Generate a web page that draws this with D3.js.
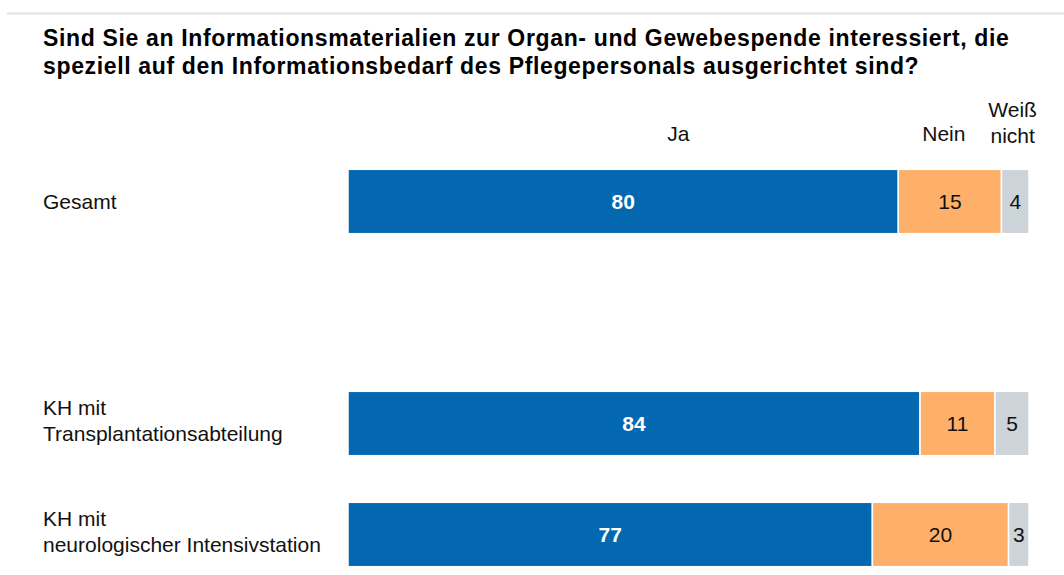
<!DOCTYPE html>
<head>
    <meta charset="utf-8">
    <script src="https://d3js.org/d3.v7.min.js"></script>
    <style>
        body { margin: 0; background: #fff; }
        text { font-family: "Liberation Sans", Arial, sans-serif; }
    </style>
</head>
<body>
<svg width="1064" height="575"></svg>

<script>

    // data
    var titleLines = ["Sind Sie an Informationsmaterialien zur Organ- und Gewebespende interessiert, die",
                      "speziell auf den Informationsbedarf des Pflegepersonals ausgerichtet sind?"];
    var groups = ["Gesamt", "_gap", "KH mit Transplantationsabteilung", "KH mit neurologischer Intensivstation"];
    var groupLabels = [["Gesamt"], [], ["KH mit", "Transplantationsabteilung"], ["KH mit", "neurologischer Intensivstation"]];
    var keys = ["Ja", "Nein", "Weiß nicht"];
    var jaValues = [80, null, 84, 77];
    var neinValues = [15, null, 11, 20];
    var wnValues = [4, null, 5, 3];
    // header lines and their position on the percent scale
    var headerLines = [["Ja"], ["Nein"], ["Weiß", "nicht"]];
    var headerPos = [48.5, 87.5, 97.6];

    var colors = ["#0468b1", "#feb06a", "#ccd3d9"];

    var svg = d3.select("svg"),
        margin = {top: 146, left: 348, right: 35},
        width = +svg.attr("width") - margin.left - margin.right;

    // top rule
    svg.append("line")
        .attr("x1", 7).attr("x2", 1064)
        .attr("y1", 13.5).attr("y2", 13.5)
        .attr("stroke", "#dde2e3")
        .attr("stroke-width", 2);

    // title
    svg.selectAll(".title")
        .data(titleLines)
        .enter()
        .append("text")
        .attr("class", "title")
        .attr("x", 43)
        .attr("y", function(d, i) { return 46 + i * 28; })
        .attr("font-size", 23)
        .attr("letter-spacing", 0.65)
        .attr("font-weight", "bold")
        .attr("fill", "#000")
        .text(function(d) { return d; });

    // build table, normalised to 100 per row
    var rows = groups.map(function(g, i) {
        return {group: g, labels: groupLabels[i], values: [jaValues[i], neinValues[i], wnValues[i]]};
    }).filter(function(d) { return d.values[0] != null; });

    var x = d3.scaleLinear()
        .domain([0, 100])
        .range([margin.left, margin.left + width]);

    var y = d3.scaleBand()
        .domain(groups)
        .range([margin.top, margin.top + groups.length * 111])
        .paddingInner(0.42)
        .paddingOuter(0.21);

    var g = svg.append("g");

    rows.forEach(function(row) {
        var total = d3.sum(row.values);
        var cum = 0;
        var segs = row.values.map(function(v, k) {
            var s = {key: keys[k], v: v, x0: cum / total * 100, x1: (cum + v) / total * 100, k: k};
            cum += v;
            return s;
        });

        var rg = g.append("g");

        rg.selectAll("rect")
            .data(segs)
            .enter()
            .append("rect")
            .attr("x", function(d) { return x(d.x0); })
            .attr("y", y(row.group))
            .attr("width", function(d) { return x(d.x1) - x(d.x0); })
            .attr("height", y.bandwidth())
            .attr("fill", function(d) { return colors[d.k]; })
            .attr("stroke", "#fff")
            .attr("stroke-width", 1.5);

        rg.selectAll(".val")
            .data(segs)
            .enter()
            .append("text")
            .attr("class", "val")
            .attr("x", function(d) { return (x(d.x0) + x(d.x1)) / 2; })
            .attr("y", y(row.group) + y.bandwidth() / 2 + 7.5)
            .attr("text-anchor", "middle")
            .attr("font-size", 21)
            .attr("font-weight", function(d) { return d.k == 0 ? "bold" : "normal"; })
            .attr("fill", function(d) { return d.k == 0 ? "#fff" : "#111"; })
            .text(function(d) { return d.v; });

        // row label
        var cy = y(row.group) + y.bandwidth() / 2;
        var n = row.labels.length;
        rg.append("text")
            .attr("x", 43)
            .attr("font-size", 21)
            .attr("fill", "#111")
            .selectAll("tspan")
            .data(row.labels)
            .enter()
            .append("tspan")
            .attr("x", 43)
            .attr("y", function(d, i) { return cy + 7 - (n - 1) * 26 + i * 26 + (n > 1 ? 10 : 0); })
            .text(function(d) { return d; });
    });

    // column headers
    headerLines.forEach(function(lines, k) {
        var t = svg.append("text")
            .attr("font-size", 21)
            .attr("fill", "#111")
            .attr("text-anchor", "middle");
        t.selectAll("tspan")
            .data(lines)
            .enter()
            .append("tspan")
            .attr("x", x(headerPos[k]))
            .attr("y", function(d, i) { return 141 - (lines.length - 1) * 24 + i * 26; })
            .text(function(d) { return d; });
    });

</script>
</body>
